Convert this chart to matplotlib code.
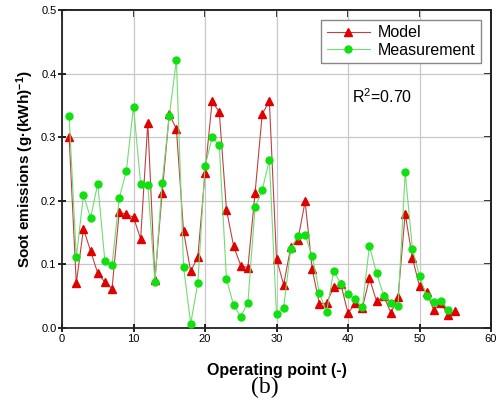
import matplotlib
matplotlib.use("Agg")
import matplotlib.pyplot as plt

plt.rcParams['font.family'] = ['Liberation Sans', 'DejaVu Sans']
plt.rcParams['mathtext.default'] = 'regular'

# Punkte der Messreihe (Betriebspunkte 1..55)
model_x = list(range(1, 56))
model_y = [0.300, 0.070, 0.156, 0.121, 0.086, 0.072, 0.062, 0.182, 0.179, 0.174,
           0.140, 0.323, 0.076, 0.212, 0.336, 0.313, 0.152, 0.089, 0.112, 0.243,
           0.357, 0.339, 0.186, 0.129, 0.098, 0.095, 0.212, 0.336, 0.357, 0.109,
           0.068, 0.128, 0.139, 0.199, 0.092, 0.038, 0.039, 0.064, 0.069, 0.023,
           0.039, 0.031, 0.078, 0.042, 0.050, 0.024, 0.048, 0.180, 0.110, 0.066,
           0.056, 0.028, 0.040, 0.020, 0.026]

meas_x = list(range(1, 55))
meas_y = [0.333, 0.111, 0.209, 0.173, 0.227, 0.105, 0.099, 0.204, 0.247, 0.348,
          0.227, 0.225, 0.073, 0.228, 0.334, 0.421, 0.096, 0.007, 0.071, 0.254,
          0.300, 0.287, 0.077, 0.036, 0.018, 0.040, 0.190, 0.217, 0.264, 0.022,
          0.032, 0.125, 0.144, 0.146, 0.113, 0.055, 0.025, 0.090, 0.069, 0.053,
          0.045, 0.033, 0.129, 0.086, 0.051, 0.039, 0.035, 0.245, 0.125, 0.081,
          0.051, 0.041, 0.043, 0.029]

x_ticks = [0, 10, 20, 30, 40, 50, 60]
y_ticks = [0.0, 0.1, 0.2, 0.3, 0.4, 0.5]

fig = plt.figure(figsize=(4.98, 4.09), dpi=100)
ax = fig.add_axes([62 / 498, 81 / 409, 429 / 498, 318 / 409])

ax.plot(model_x, model_y, color='#c04040', lw=0.8, marker='^', ms=5.8,
        mfc='#e00000', mec='#e00000', label='Model', zorder=3)
ax.plot(meas_x, meas_y, color='#70dd70', lw=0.8, marker='o', ms=5.0,
        mfc='#10e010', mec='#10e010', label='Measurement', zorder=4)

ax.set_xlim(0, 60)
ax.set_ylim(0, 0.5)
ax.set_xticks(x_ticks)
ax.set_yticks(y_ticks)
ax.set_yticklabels([f"{v:.1f}" for v in y_ticks])
ax.grid(True, color='#c8c8c8', lw=0.9)
ax.set_axisbelow(True)

ax.tick_params(axis='both', labelsize=8, width=1.2, length=6, direction='inout',
               pad=1)
for sp in ax.spines.values():
    sp.set_linewidth(1.3)
    sp.set_color('#222222')

# Ticks oben und rechts nur nach innen
top = ax.secondary_xaxis('top')
top.set_xticks(x_ticks)
top.tick_params(direction='in', length=5, width=1.3, color='#111111',
                labeltop=False)
right = ax.secondary_yaxis('right')
right.set_yticks(y_ticks)
right.tick_params(direction='in', length=5, width=1.3, color='#111111',
                  labelright=False)
for a in (top, right):
    for sp in a.spines.values():
        sp.set_linewidth(1.3)
        sp.set_color('#222222')

ax.set_xlabel('Operating point (-)', fontsize=11.5, fontweight='bold', labelpad=14)
ax.set_ylabel('Soot emissions (g·(kWh)$^{-1}$)', fontsize=11, fontweight='bold',
              labelpad=4)

leg = ax.legend(loc='upper right', bbox_to_anchor=(0.977, 0.969), fontsize=11.5,
                fancybox=False, edgecolor='#888888', framealpha=1,
                borderaxespad=0, handlelength=2.7, handletextpad=0.5,
                labelspacing=0.15, borderpad=0.35)
leg.get_frame().set_linewidth(1.0)
leg.set_zorder(10)

ax.text(0.677, 0.729, 'R$^2$=0.70', transform=ax.transAxes, fontsize=11.5,
        va='center', ha='left')

fig.text(265 / 498, 1 - 387 / 409, '(b)', fontsize=17,
         family=['Liberation Serif'], ha='center', va='center')

fig.savefig('out.png', dpi=100)
